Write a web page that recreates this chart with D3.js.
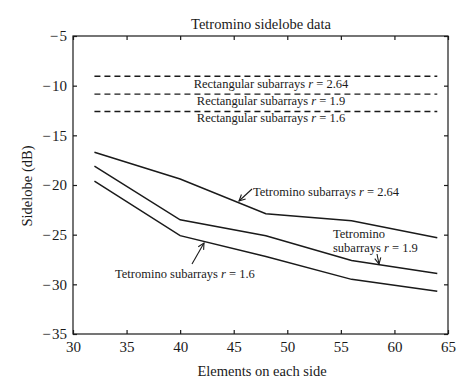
<!DOCTYPE html>
<html><head><meta charset="utf-8">
<script src="https://cdn.jsdelivr.net/npm/d3@7"></script>
<style>
body{margin:0;background:#fff;}
text{font-family:"Liberation Serif","Times New Roman",serif;fill:#1a1a1a;}
</style></head>
<body><svg id="c" width="474" height="392"></svg>
<script>
const elements = [32, 40, 48, 56, 64];
const tetro264 = [-16.7, -19.4, -22.9, -23.6, -25.3];
const tetro19  = [-18.1, -23.5, -25.1, -27.6, -28.9];
const tetro16  = [-19.6, -25.1, -27.2, -29.5, -30.7];
const rect264 = -9.05;
const rect19  = -10.85;
const rect16  = -12.6;
const xTicks = [30, 35, 40, 45, 50, 55, 60, 65];
const yTicks = [-35, -30, -25, -20, -15, -10, -5];

const svg = d3.select("#c");
const L = 73, R = 448, T = 36, B = 334;
const x = d3.scaleLinear().domain([30, 65]).range([L, R]);
const y = d3.scaleLinear().domain([-35, -5]).range([B, T]);
const col = "#1a1a1a";

svg.append("rect").attr("x", L).attr("y", T).attr("width", R - L).attr("height", B - T)
  .attr("fill", "none").attr("stroke", col).attr("stroke-width", 1.2);

const fmt = d => (d < 0 ? "\u2212\u200a" + Math.abs(d) : "" + d);
const gx = svg.append("g").attr("transform", `translate(0,${B})`)
  .call(d3.axisBottom(x).tickValues(xTicks).tickSizeInner(-4).tickSizeOuter(0).tickPadding(7).tickFormat(d => d));
const gxt = svg.append("g").attr("transform", `translate(0,${T})`)
  .call(d3.axisTop(x).tickValues(xTicks).tickSizeInner(-4).tickSizeOuter(0).tickFormat(""));
const gy = svg.append("g").attr("transform", `translate(${L},0)`)
  .call(d3.axisLeft(y).tickValues(yTicks).tickSizeInner(-4).tickSizeOuter(0).tickPadding(6).tickFormat(fmt));
const gyr = svg.append("g").attr("transform", `translate(${R},0)`)
  .call(d3.axisRight(y).tickValues(yTicks).tickSizeInner(-4).tickSizeOuter(0).tickFormat(""));
[gx, gxt, gy, gyr].forEach(g => {
  g.select(".domain").remove();
  g.selectAll("line").attr("stroke", col).attr("stroke-width", 1.2);
  g.selectAll("text").attr("font-size", 15).attr("font-family", "Liberation Serif, serif").attr("fill", col);
});

[rect264, rect19, rect16].forEach(v => {
  svg.append("line").attr("x1", x(32)).attr("x2", x(64)).attr("y1", y(v)).attr("y2", y(v))
    .attr("stroke", col).attr("stroke-width", 1.3).attr("stroke-dasharray", "6,4");
});

const line = d3.line().x((d, i) => x(elements[i])).y(d => y(d));
[tetro264, tetro19, tetro16].forEach(s => {
  svg.append("path").attr("d", line(s)).attr("fill", "none").attr("stroke", col).attr("stroke-width", 1.5);
});

function rlabel(txt, rv, px, py, anchor) {
  const t = svg.append("text").attr("x", px).attr("y", py).attr("text-anchor", anchor || "start")
    .attr("font-size", 12.5);
  t.append("tspan").text(txt + " ");
  t.append("tspan").attr("font-style", "italic").text("r");
  t.append("tspan").text(" = " + rv);
}
rlabel("Rectangular subarrays", "2.64", 271, y(rect264) + 12, "middle");
rlabel("Rectangular subarrays", "1.9", 271, y(rect19) + 11, "middle");
rlabel("Rectangular subarrays", "1.6", 271, y(rect16) + 11, "middle");

rlabel("Tetromino subarrays", "2.64", 253, 196, "start");
svg.append("text").attr("x", 333).attr("y", 238).attr("font-size", 12.5).text("Tetromino");
rlabel("subarrays", "1.9", 333, 252, "start");
rlabel("Tetromino subarrays", "1.6", 115, 278, "start");

svg.append("defs").append("marker").attr("id", "ah").attr("viewBox", "0 0 10 10")
  .attr("refX", 9).attr("refY", 5).attr("markerWidth", 7).attr("markerHeight", 7).attr("orient", "auto")
  .append("path").attr("d", "M1,1 L9,5 L1,9").attr("fill", "none").attr("stroke", col).attr("stroke-width", 1.4);
const arrow = (x1, y1, x2, y2) => svg.append("line").attr("x1", x1).attr("y1", y1).attr("x2", x2).attr("y2", y2)
  .attr("stroke", col).attr("stroke-width", 1.1).attr("marker-end", "url(#ah)");
arrow(252, 189, 239, 201);
arrow(377, 254, 379, 264);
arrow(192, 264, 204, 243);

svg.append("text").attr("x", 261).attr("y", 29).attr("text-anchor", "middle").attr("font-size", 14.5).text("Tetromino sidelobe data");
svg.append("text").attr("x", 262).attr("y", 376).attr("text-anchor", "middle").attr("font-size", 14.5).text("Elements on each side");
svg.append("text").attr("transform", "translate(32,186) rotate(-90)").attr("text-anchor", "middle").attr("font-size", 14.5).text("Sidelobe (dB)");
</script></body></html>
